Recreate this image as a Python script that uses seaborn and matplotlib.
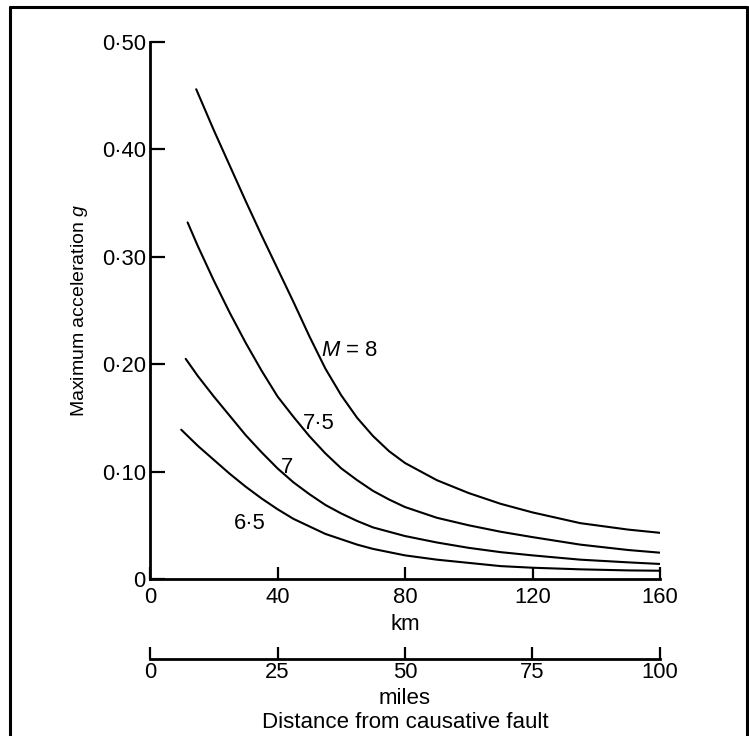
import matplotlib
matplotlib.use("Agg")
import matplotlib.pyplot as plt
from matplotlib.lines import Line2D
import seaborn as sns
import pandas as pd

# ---- data ----
magnitudes = ["8", "7·5", "7", "6·5"]

km_m8 = [14.5, 20, 25, 30, 35, 40, 45, 50, 55, 60, 65, 70, 75, 80, 90, 100, 110, 120, 135, 150, 160]
g_m8 = [0.456, 0.418, 0.385, 0.352, 0.320, 0.289, 0.258, 0.226, 0.196, 0.171, 0.150, 0.133, 0.119, 0.108,
        0.092, 0.080, 0.070, 0.062, 0.052, 0.046, 0.043]

km_m75 = [11.8, 15, 20, 25, 30, 35, 40, 45, 50, 55, 60, 65, 70, 75, 80, 90, 100, 110, 120, 135, 150, 160]
g_m75 = [0.332, 0.310, 0.278, 0.248, 0.220, 0.194, 0.170, 0.151, 0.133, 0.117, 0.103, 0.092, 0.082, 0.074,
         0.067, 0.057, 0.050, 0.044, 0.039, 0.032, 0.027, 0.0245]

km_m7 = [11.2, 15, 20, 25, 30, 35, 40, 45, 50, 55, 60, 65, 70, 75, 80, 90, 100, 110, 120, 135, 150, 160]
g_m7 = [0.205, 0.189, 0.170, 0.152, 0.134, 0.118, 0.103, 0.090, 0.079, 0.069, 0.061, 0.054, 0.048, 0.044,
        0.040, 0.034, 0.029, 0.025, 0.022, 0.018, 0.0155, 0.014]

km_m65 = [9.8, 15, 20, 25, 30, 35, 40, 45, 50, 55, 60, 65, 70, 75, 80, 90, 100, 110, 120, 135, 150, 160]
g_m65 = [0.139, 0.124, 0.111, 0.098, 0.086, 0.075, 0.065, 0.056, 0.049, 0.042, 0.037, 0.032, 0.028, 0.025,
         0.022, 0.018, 0.015, 0.012, 0.0105, 0.009, 0.008, 0.0077]

km_ticks = [0, 40, 80, 120, 160]
mile_ticks = [0, 25, 50, 75, 100]
g_ticks = [0, 0.1, 0.2, 0.3, 0.4, 0.5]
g_tick_labels = ["0", "0·10", "0·20", "0·30", "0·40", "0·50"]

label_text = ["$M$ = 8", "7·5", "7", "6·5"]
label_km = [62.7, 52.8, 42.9, 31.4]
label_g = [0.213, 0.145, 0.104, 0.052]

# ---- build long table ----
frames = []
for m, xs, ys in zip(magnitudes, [km_m8, km_m75, km_m7, km_m65], [g_m8, g_m75, g_m7, g_m65]):
    frames.append(pd.DataFrame({"km": xs, "g": ys, "M": m}))
df = pd.concat(frames, ignore_index=True)

sns.set_theme(style="white")
plt.rcParams["font.family"] = ["Liberation Sans", "DejaVu Sans"]
plt.rcParams["mathtext.fontset"] = "custom"
plt.rcParams["mathtext.rm"] = "Liberation Sans"
plt.rcParams["mathtext.it"] = "Liberation Sans:italic"
plt.rcParams["text.color"] = "black"
plt.rcParams["axes.labelcolor"] = "black"
plt.rcParams["xtick.color"] = "black"
plt.rcParams["ytick.color"] = "black"

FS = 15.8
LFS = 16.0
W, H = 749, 736
PX = 72 / 100  # points per pixel
fig = plt.figure(figsize=(W / 100, H / 100), dpi=100)
fig.patch.set_facecolor("white")

x0, x1 = 150, 660
y0, y1 = 579, 42
ax = fig.add_axes([x0 / W, 1 - y0 / H, (x1 - x0) / W, (y0 - y1) / H])
ax.set_facecolor("none")

sns.lineplot(data=df, x="km", y="g", hue="M", palette=["black"] * 4,
             legend=False, ax=ax, linewidth=1.5, estimator=None, sort=True)

ax.set_xlim(0, 160)
ax.set_ylim(0, 0.5)
for s in ["top", "right"]:
    ax.spines[s].set_visible(False)
for s in ["left", "bottom"]:
    ax.spines[s].set_linewidth(2.0)
    ax.spines[s].set_color("black")
    ax.spines[s].set_capstyle("projecting")

ax.set_xticks(km_ticks)
ax.set_xticklabels([str(t) for t in km_ticks], fontsize=FS)
ax.set_yticks(g_ticks)
ax.set_yticklabels(g_tick_labels, fontsize=FS)
ax.tick_params(axis="x", bottom=True, direction="in", length=9, width=1.6, pad=8 * PX)
ax.tick_params(axis="y", left=True, direction="in", length=11, width=1.6, pad=3)

ax.set_xlabel("km", fontsize=LFS, va="center")
ax.xaxis.set_label_coords(0.5, (y0 - 624) / (y0 - y1))
ax.set_ylabel("Maximum acceleration $g$", fontsize=14, va="center", ha="center")
ax.yaxis.set_label_coords((79 - x0) / (x1 - x0), 0.5)

for t, xk, yg in zip(label_text, label_km, label_g):
    ax.text(xk, yg, t, fontsize=FS, ha="center", va="center")

# ---- miles scale ----
ym = 659
ax2 = fig.add_axes([x0 / W, 1 - ym / H, (x1 - x0) / W, 0.0001])
ax2.patch.set_visible(False)
ax2.set_xlim(0, 100)
ax2.set_yticks([])
for s in ["top", "right", "left"]:
    ax2.spines[s].set_visible(False)
ax2.spines["bottom"].set_linewidth(2.0)
ax2.spines["bottom"].set_color("black")
ax2.set_xticks(mile_ticks)
ax2.set_xticklabels([str(t) for t in mile_ticks], fontsize=FS)
ax2.tick_params(axis="x", bottom=True, direction="in", length=9, width=1.6, pad=3 * PX)
ax2.set_xlabel("miles", fontsize=LFS, va="center")
ax2.xaxis.set_label_coords(405 / W, 1 - 698 / H, transform=fig.transFigure)

fig.text(405 / W, 1 - 722.8 / H, "Distance from causative fault", fontsize=LFS,
         ha="center", va="center")

# ---- frame ----
lw = 2.2
fig.add_artist(Line2D([10 / W, 10 / W], [0, 1 - 7 / H], transform=fig.transFigure, color="black", lw=lw))
fig.add_artist(Line2D([10 / W, 747 / W], [1 - 7 / H, 1 - 7 / H], transform=fig.transFigure, color="black", lw=lw))
fig.add_artist(Line2D([747 / W, 747 / W], [0, 1 - 7 / H], transform=fig.transFigure, color="black", lw=lw))

fig.savefig("out.png", dpi=100, facecolor="white")
